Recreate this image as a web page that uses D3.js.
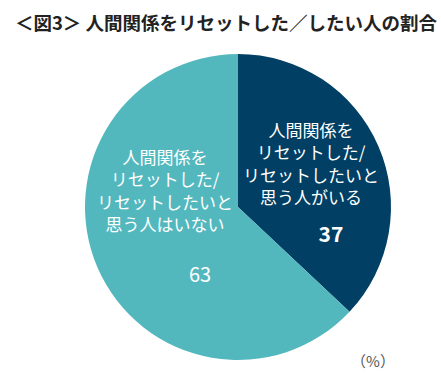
<!DOCTYPE html>
<html>
<head>
<meta charset="utf-8">
<script src="https://cdn.jsdelivr.net/npm/d3@7"></script>
<style>
  body { margin: 0; background: #fff; }
  svg { display: block; font-family: "Noto Sans CJK JP", "Noto Sans", sans-serif; }
</style>
</head>
<body>
<div id="chart"></div>
<script>
const width = 441;
const height = 386;

// ——— DATA —————————————————————————————————————————————————————————
const categories = ["reset", "noReset"];
const values = [37, 63];
const labelLines = [
    ["人間関係を", "リセットした/", "リセットしたいと", "思う人がいる"],
    ["人間関係を", "リセットした/", "リセットしたいと", "思う人はいない"]
];
const colors = ["#013f64", "#53b8be"];
const title = "＜図3＞ 人間関係をリセットした／したい人の割合";
const unit = "（%）";

const cx = 238, cy = 207, radius = 153;

const svg = d3.select("#chart").append("svg")
    .attr("width", width)
    .attr("height", height);

svg.append("text")
    .attr("x", 226)
    .attr("y", 30)
    .attr("text-anchor", "middle")
    .style("font-size", "18.5px")
    .style("font-weight", "bold")
    .style("fill", "#222")
    .text(title);

// ——— PIE ——————————————————————————————————————————————————————————
const pie = d3.pie().sort(null).value((d) => d.value);
const arc = d3.arc().innerRadius(0).outerRadius(radius);

const data = categories.map((c, i) => ({ key: c, value: values[i], lines: labelLines[i] }));
const arcs = pie(data);

const g = svg.append("g").attr("transform", `translate(${cx},${cy})`);

g.selectAll("path")
    .data(arcs)
    .enter()
    .append("path")
    .attr("d", arc)
    .attr("fill", (d, i) => colors[i]);

// label positions relative to the centre (first line, value)
const labelPos = [
    { x: 73, y: -76, vy: 28, vx: 93, bold: true },
    { x: -73, y: -49, vy: 68, vx: -38, bold: false }
];
const lineH = 22.5;

arcs.forEach((a, i) => {
    const p = labelPos[i];
    const t = g.append("text")
        .attr("text-anchor", "middle")
        .style("font-size", "17px")
        .style("fill", "#fff");
    a.data.lines.forEach((ln, j) => {
        t.append("tspan")
            .attr("x", p.x)
            .attr("y", p.y + j * lineH)
            .attr("dy", "0.35em")
            .text(ln);
    });
    g.append("text")
        .attr("x", p.vx)
        .attr("y", p.vy)
        .attr("dy", "0.35em")
        .attr("text-anchor", "middle")
        .style("font-size", p.bold ? "21px" : "20px")
        .style("font-weight", p.bold ? "bold" : "normal")
        .style("fill", "#fff")
        .text(a.data.value);
});

svg.append("text")
    .attr("x", 373)
    .attr("y", 362)
    .attr("dy", "0.35em")
    .attr("text-anchor", "middle")
    .style("font-size", "15px")
    .style("fill", "#555")
    .text(unit);
</script>
</body>
</html>
